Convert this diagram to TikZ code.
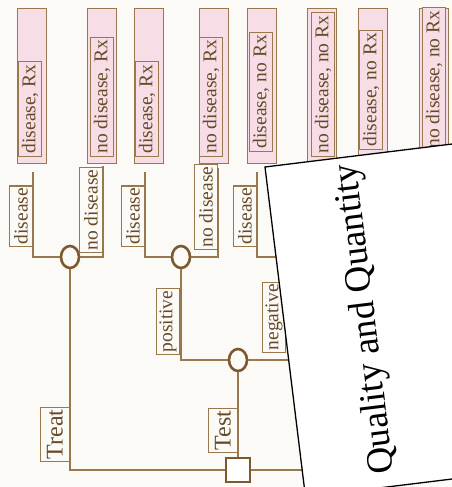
\documentclass[tikz,border=0pt]{standalone}
\usepackage{fontspec}
\setmainfont{Liberation Serif}
\usetikzlibrary{positioning,calc,shapes.geometric}

\definecolor{treebrown}{RGB}{152,120,76}
\definecolor{nodebrown}{RGB}{124,90,48}
\definecolor{inkbrown}{RGB}{102,74,40}
\definecolor{outpink}{RGB}{247,221,229}
\definecolor{paper}{RGB}{251,250,246}

\begin{document}
\begin{tikzpicture}[
  x=1pt, y=-1pt,
  every node/.style={font=\fontsize{19.5}{21}\selectfont, text=inkbrown},
  outbox/.style={draw=treebrown, line width=1.6pt, fill=outpink,
                 minimum width=29pt, minimum height=155pt, inner sep=0pt},
  outtext/.style={draw=treebrown, line width=1.2pt, fill=outpink, rotate=90,
                  anchor=west, minimum height=23pt, inner xsep=3pt, inner ysep=0pt},
  chance/.style={draw=nodebrown, ellipse, line width=2.6pt, fill=paper,
                 minimum width=18pt, minimum height=22pt, inner sep=0pt},
  decision/.style={draw=nodebrown, rectangle, line width=2.6pt, fill=white,
                   minimum size=24pt, inner sep=0pt},
  branch/.style={draw=treebrown, line width=1.6pt},
  blabel/.style={draw=treebrown, line width=1.2pt, fill=paper, rotate=90,
                 anchor=south west, minimum height=23pt, inner xsep=2pt, inner ysep=0pt},
  choice/.style={blabel, font=\fontsize{24}{26}\selectfont, minimum height=29pt},
  sheet/.style={draw=black, line width=1.3pt, fill=white},
  title/.style={font=\fontsize{37}{40}\selectfont, text=black, rotate=97,
                anchor=base west, inner sep=0pt}
]
  \fill[paper] (0,0) rectangle (452,487);
  \useasboundingbox (0,0) rectangle (452,487);
  \clip (0,0) rectangle (452,487);

  % outcomes
  \node[outbox] (o1) at (32,86)  {};
  \node[outbox] (o2) at (102,86) {};
  \node[outbox] (o3) at (149,86) {};
  \node[outbox] (o4) at (214,86) {};
  \node[outbox] (o5) at (262,86) {};
  \node[outbox] (o6) at (322,86) {};
  \node[outbox] (o7) at (373,86) {};
  \node[outbox] (o8) at (434,86) {};

  \node[outtext] (t1) at (30,157)  {disease, Rx};
  \node[outtext] (t2) at (102,157) {no disease, Rx};
  \node[outtext] (t3) at (147,157) {disease, Rx};
  \node[outtext] (t4) at (211,157) {no disease, Rx};
  \node[outtext] (t5) at (261,152) {disease, no Rx};
  \node[outtext] (t6) at (323,157) {no disease, no Rx};
  \node[outtext] (t7) at (371,150) {disease, no Rx};
  \node[outtext] (t8) at (434,152) {no disease, no Rx};

  % tree
  \node[decision] (dec)   at (238,470) {};
  \node[chance]   (cTreat) at (70,257)  {};
  \node[chance]   (cPos)   at (181,257) {};
  \node[chance]   (cTest)  at (238,360) {};
  \node[chance]   (cNeg)   at (292,257) {};

  \coordinate (b1) at (33,172);
  \coordinate (b2) at (103,166);
  \coordinate (b3) at (145,172);
  \coordinate (b4) at (218,168);
  \coordinate (b5) at (257,172);
  \coordinate (noRx) at (340,470);

  \node[blabel] (lDis1) at (33,247)  {disease};
  \node[blabel] (lNo1)  at (103,253) {no disease};
  \node[blabel] (lDis2) at (145,247) {disease};
  \node[blabel] (lNo2)  at (218,250) {no disease};
  \node[blabel] (lDis3) at (257,247) {disease};
  \node[blabel] (lPos)  at (180,355) {positive};
  \node[blabel] (lNeg)  at (286,353) {negative};
  \node[choice] (lTreat) at (70,462) {Treat};
  \node[choice] (lTest)  at (238,453) {Test};

  \draw[branch] (dec.west) -| (cTreat.south);
  \draw[branch] (dec.east) -- (noRx);
  \draw[branch] (cTest) -- (dec);
  \draw[branch] (cPos.south) |- (cTest.west);
  \draw[branch] (cTest.east) -| (cNeg.south);

  \draw[branch] (cTreat.west) -| (b1);
  \draw[branch] (cTreat.east) -| (b2);
  \draw[branch] (cPos.west) -| (b3);
  \draw[branch] (cPos.east) -| (b4);
  \draw[branch] (cNeg.west) -| (b5);

  % overlapping page
  \draw[sheet] (265,167) -- ++(250,-30.7) -- ++(40.5,330) -- ++(-250,30.7) -- cycle;
  \node[title] (qq) at (394,473) {Quality and Quantity};
\end{tikzpicture}
\end{document}
